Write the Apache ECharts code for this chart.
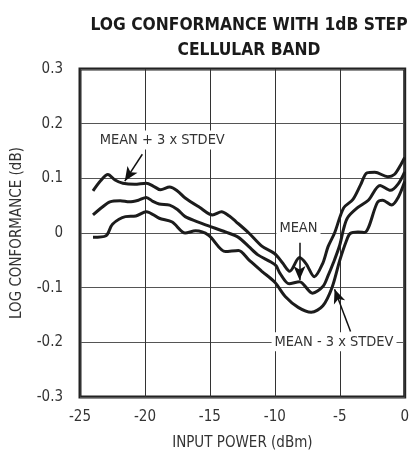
<!DOCTYPE html>
<html>
<head>
<meta charset="utf-8">
<script src="https://cdn.jsdelivr.net/npm/echarts@6/dist/echarts.min.js"></script>
<style>html,body{margin:0;padding:0;background:#fff}#c{width:412px;height:460px}</style>
</head>
<body>
<div id="c"></div>
<script>
// Data
var upperX = [-24.0,-23.4,-22.85,-22.3,-21.7,-20.8,-19.9,-19.3,-18.8,-18.1,-17.5,-16.9,-15.8,-14.8,-14.1,-13.5,-13.0,-12.0,-11.0,-10.0,-9.4,-8.86,-8.1,-7.6,-6.96,-6.3,-5.9,-5.4,-4.7,-4.0,-3.4,-2.9,-2.3,-1.3,-0.8,-0.3,0];
var upperY = [0.077,0.096,0.107,0.097,0.091,0.089,0.091,0.085,0.079,0.084,0.077,0.064,0.047,0.033,0.039,0.031,0.021,0.000,-0.024,-0.038,-0.055,-0.070,-0.045,-0.056,-0.080,-0.055,-0.025,0.000,0.046,0.061,0.088,0.110,0.111,0.103,0.107,0.125,0.138];
var meanX = [-24.0,-23.3,-22.7,-21.9,-21.2,-20.5,-19.9,-19.4,-18.9,-18.1,-17.5,-16.9,-16.0,-15.1,-13.8,-12.8,-12.0,-11.3,-10.3,-9.9,-9.6,-8.9,-8.1,-7.1,-6.3,-5.9,-5.5,-5.0,-4.7,-4.4,-3.7,-2.8,-1.9,-1.1,-0.5,0];
var meanY = [0.033,0.047,0.057,0.059,0.057,0.060,0.065,0.058,0.053,0.051,0.043,0.030,0.021,0.013,0.002,-0.008,-0.025,-0.040,-0.053,-0.060,-0.074,-0.093,-0.089,-0.110,-0.098,-0.078,-0.055,-0.022,0.008,0.028,0.045,0.060,0.087,0.078,0.090,0.112];
var lowerX = [-24.0,-23.0,-22.5,-21.5,-20.7,-19.9,-18.9,-17.9,-16.9,-16.1,-15.1,-13.8,-12.8,-12.0,-11.0,-10.0,-9.2,-8.2,-7.2,-6.3,-5.6,-5.0,-4.5,-4.2,-3.6,-3.1,-2.1,-1.7,-1.0,-0.5,0];
var lowerY = [-0.008,-0.005,0.016,0.030,0.031,0.039,0.027,0.020,0.000,0.004,-0.004,-0.034,-0.032,-0.049,-0.070,-0.090,-0.116,-0.136,-0.145,-0.133,-0.100,-0.050,-0.015,-0.001,0.002,0.001,0.056,0.060,0.051,0.065,0.094];
var xTickLabels = ['-25','-20','-15','-10','-5','0'];
var yTickLabels = ['-0.3','-0.2','-0.1','0','0.1','0.2','0.3'];
var seriesNames = ['MEAN + 3 x STDEV','MEAN','MEAN - 3 x STDEV'];

function pairs(xs, ys){ return xs.map(function(x,i){ return [x, ys[i]]; }); }

var FONT = "'Liberation Sans Narrow','DejaVu Sans Condensed',sans-serif";
var LINE = '#1c1c1c';

function annot(text, coord){
  return {
    symbol:'circle', symbolSize:1, itemStyle:{color:'rgba(0,0,0,0)'},
    label:{show:true, position:'inside', formatter:text, color:'#333', fontFamily:FONT, fontSize:14.5,
      backgroundColor:'#fff', padding:[2,3]},
    data:[{coord:coord}]
  };
}
function arrow(from, to){
  return {
    silent:true, symbol:['none','arrow'], symbolSize:[9,14],
    lineStyle:{color:'#111', width:1.5, type:'solid'},
    label:{show:false},
    data:[[{coord:from},{coord:to}]]
  };
}

var chart = echarts.init(document.getElementById('c'), null, {renderer:'canvas'});
chart.setOption({
  animation:false,
  backgroundColor:'#fff',
  title:{
    text:'LOG CONFORMANCE WITH 1dB STEP\nCELLULAR BAND',
    left:244, top:8, textAlign:'center',
    textStyle:{fontFamily:FONT, fontWeight:'bold', fontSize:17.3, color:'#1a1a1a', lineHeight:25}
  },
  grid:{left:80, right:4, top:69, bottom:63, show:true, borderColor:'#222', borderWidth:3, backgroundColor:'transparent'},
  xAxis:{
    type:'value', min:-25, max:0, interval:5,
    name:'INPUT POWER (dBm)', nameLocation:'middle', nameGap:39,
    nameTextStyle:{fontFamily:FONT, fontSize:15, color:'#333'},
    axisLine:{show:false}, axisTick:{show:false},
    axisLabel:{margin:13, fontFamily:FONT, fontSize:15, color:'#333',
      formatter:function(v){ var i=Math.round((v+25)/5); return xTickLabels[i]; }},
    splitLine:{show:true, lineStyle:{color:'#333', width:1}}
  },
  yAxis:{
    type:'value', min:-0.3, max:0.3, interval:0.1,
    name:'LOG CONFORMANCE (dB)', nameLocation:'middle', nameGap:55,
    nameTextStyle:{fontFamily:FONT, fontSize:15, color:'#333'},
    axisLine:{show:false}, axisTick:{show:false},
    axisLabel:{margin:17, fontFamily:FONT, fontSize:15, color:'#333',
      formatter:function(v){ var i=Math.round((v+0.3)/0.1); return yTickLabels[i]; }},
    splitLine:{show:true, lineStyle:{color:'#555', width:1}}
  },
  series:[
    {name:seriesNames[0], type:'line', data:pairs(upperX,upperY), smooth:0.3, showSymbol:false,
     lineStyle:{color:LINE, width:3}, z:3,
     markPoint:annot('MEAN + 3 x STDEV', [-18.67, 0.170]),
     markLine:arrow([-20.2, 0.144],[-21.55, 0.095])},
    {name:seriesNames[1], type:'line', data:pairs(meanX,meanY), smooth:0.3, showSymbol:false,
     lineStyle:{color:LINE, width:3}, z:3,
     markPoint:annot('MEAN', [-8.18, 0.009]),
     markLine:arrow([-8.1, -0.018],[-8.1, -0.086])},
    {name:seriesNames[2], type:'line', data:pairs(lowerX,lowerY), smooth:0.3, showSymbol:false,
     lineStyle:{color:LINE, width:3}, z:3,
     markPoint:annot('MEAN - 3 x STDEV', [-5.44, -0.199]),
     markLine:arrow([-4.17, -0.180],[-5.4, -0.103])}
  ]
});
</script>
</body>
</html>
